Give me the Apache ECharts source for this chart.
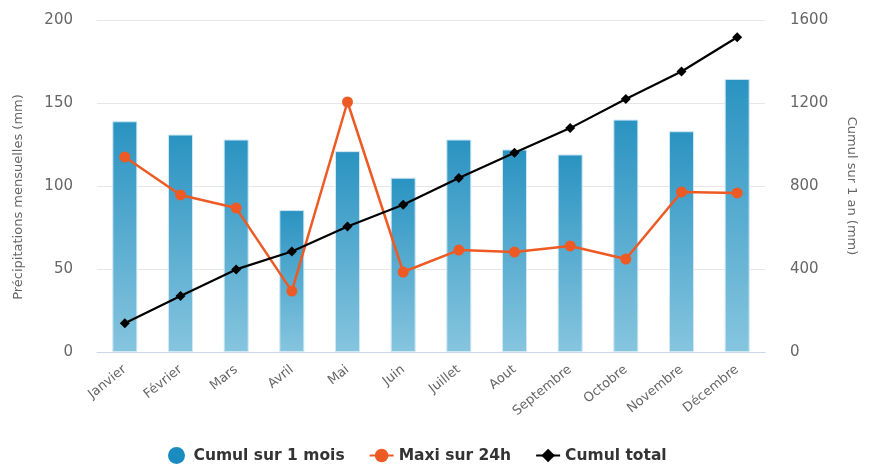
<!DOCTYPE html>
<html>
<head>
<meta charset="utf-8">
<script src="https://cdn.jsdelivr.net/npm/echarts@6/dist/echarts.min.js"></script>
<style>
  html, body { margin: 0; padding: 0; background: #fff; }
  #chart { width: 872px; height: 464px; }
</style>
</head>
<body>
<div id="chart"></div>
<script>
// Précipitations mensuelles: bars + two lines on a dual y axis.
const months = ['Janvier', 'Février', 'Mars', 'Avril', 'Mai', 'Juin',
  'Juillet', 'Aout', 'Septembre', 'Octobre', 'Novembre', 'Décembre'];
const cumulMois = [139, 131, 128, 85.5, 121, 105, 128, 122, 119, 140, 133, 164.5];
const maxi24h = [117.5, 94.6, 86.7, 36.7, 150.6, 48.2, 61.4, 60.2, 63.9, 56, 96.4, 95.8];
const cumulTotal = [139, 270, 398, 484, 605, 710, 838, 960, 1079, 1219, 1352, 1517];

const FONT = '"DejaVu Sans", sans-serif';
const chart = echarts.init(document.getElementById('chart'), null, { renderer: 'canvas' });

chart.setOption({
  animation: false,
  textStyle: { fontFamily: FONT },
  grid: { left: 97, right: 107, top: 20, bottom: 112 },
  legend: {
    top: 447,
    left: 168,
    padding: 0,
    itemGap: 24,
    itemWidth: 24,
    itemHeight: 17,
    textStyle: { fontFamily: FONT, fontSize: 15.5, fontWeight: 'bold', color: '#333' },
    data: [
      { name: 'Cumul sur 1 mois', icon: 'circle', itemStyle: { color: '#1a8cc0', borderWidth: 0 } },
      { name: 'Maxi sur 24h' },
      { name: 'Cumul total' },
    ],
  },
  xAxis: {
    type: 'category',
    data: months,
    boundaryGap: true,
    axisLine: { lineStyle: { color: '#ccd6eb' } },
    axisTick: { length: 10, lineStyle: { color: '#ccd6eb' } },
    axisLabel: { rotate: 39, color: '#666', fontSize: 13, margin: 16, interval: 0 },
  },
  yAxis: [
    {
      type: 'value',
      min: 0, max: 200, interval: 50,
      name: 'Précipitations mensuelles (mm)',
      nameLocation: 'middle',
      nameGap: 72,
      nameTextStyle: { color: '#666', fontSize: 13, padding: [0, 0, 0, -22] },
      axisLabel: { color: '#666', fontSize: 15, margin: 24 },
      splitLine: { lineStyle: { color: '#e6e6e6' } },
    },
    {
      type: 'value',
      min: 0, max: 1600, interval: 400,
      name: 'Cumul sur 1 an (mm)',
      nameLocation: 'middle',
      nameRotate: -90,
      nameGap: 80,
      nameTextStyle: { color: '#666', fontSize: 13 },
      axisLabel: { color: '#666', fontSize: 15, margin: 25, formatter: (v) => String(v) },
      splitLine: { show: false },
    },
  ],
  series: [
    {
      name: 'Cumul sur 1 mois',
      type: 'bar',
      data: cumulMois,
      barWidth: 25,
      itemStyle: {
        color: new echarts.graphic.LinearGradient(0, 0, 0, 1, [
          { offset: 0, color: '#2a93c1' },
          { offset: 1, color: '#86c5df' },
        ]),
        borderColor: '#cfe8f3',
        borderWidth: 1,
      },
    },
    {
      name: 'Maxi sur 24h',
      type: 'line',
      data: maxi24h,
      color: '#ee5a24',
      symbol: 'circle',
      symbolSize: 11,
      lineStyle: { width: 2.5 },
    },
    {
      name: 'Cumul total',
      type: 'line',
      yAxisIndex: 1,
      data: cumulTotal,
      color: '#000',
      symbol: 'diamond',
      symbolSize: 10,
      lineStyle: { width: 2.2 },
    },
  ],
});
</script>
</body>
</html>
